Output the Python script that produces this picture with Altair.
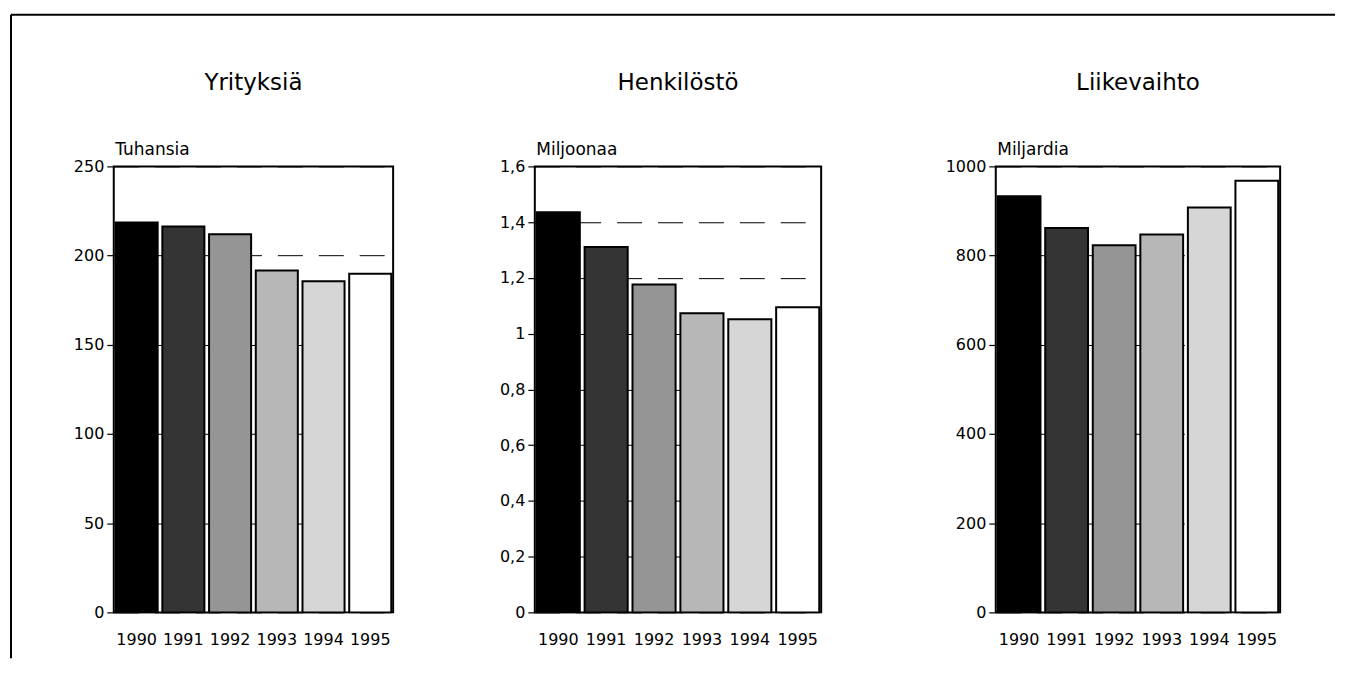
import altair as alt
import pandas as pd

# ---- data ----
years = ["1990", "1991", "1992", "1993", "1994", "1995"]
yritykset = [218.5, 216.3, 212.0, 191.7, 185.6, 189.8]      # Tuhansia
henkilosto = [1.435, 1.311, 1.176, 1.073, 1.052, 1.095]     # Miljoonaa
liikevaihto = [933, 862, 823, 847, 908, 968]                # Miljardia
bar_colors = ["#000000", "#343434", "#959595", "#b7b7b7", "#d6d6d6", "#ffffff"]

titles = ["Yrityksiä", "Henkilöstö", "Liikevaihto"]
units = ["Tuhansia", "Miljoonaa", "Miljardia"]
domains = [[0, 250], [0, 1.6], [0, 1000]]
tick_values = [
    [0, 50, 100, 150, 200, 250],
    [0, 0.2, 0.4, 0.6, 0.8, 1.0, 1.2, 1.4, 1.6],
    [0, 200, 400, 600, 800, 1000],
]
label_exprs = [
    "format(datum.value, 'd')",
    "replace(format(datum.value, '.1~f'), '.', ',')",
    "format(datum.value, 'd')",
]
widths = [280, 287, 285]
FONT = "DejaVu Sans"
H = 447


def panel(i, values):
    df = pd.DataFrame({"year": years, "value": values, "color": bar_colors})
    bars = alt.Chart(df).mark_bar(stroke="black", strokeWidth=2).encode(
        x=alt.X(
            "year:N",
            sort=years,
            scale=alt.Scale(paddingInner=0.1, paddingOuter=0.04),
            axis=alt.Axis(title=None, labelAngle=0, ticks=False, tickSize=0,
                          domain=False, labelPadding=19, grid=False),
        ),
        y=alt.Y(
            "value:Q",
            scale=alt.Scale(domain=domains[i], nice=False, zero=True),
            axis=alt.Axis(
                values=tick_values[i], labelExpr=label_exprs[i],
                title=units[i], titleAngle=0, titleAlign="left",
                titleBaseline="alphabetic", titleX=1, titleY=-12,
                grid=True, gridDash=[25, 16], gridColor="black", gridWidth=1,
                gridOpacity=1, domain=False, tickSize=7, tickColor="black",
                tickWidth=1.2, labelPadding=3,
            ),
        ),
        color=alt.Color("color:N", scale=None),
    )
    return bars.properties(
        width=widths[i],
        height=H,
        title=alt.TitleParams(titles[i], fontSize=23, font=FONT,
                              fontWeight="normal", color="black",
                              anchor="middle", offset=46),
    )


def spacer(w, frame=False):
    fdf = pd.DataFrame({"k": [0]})
    if frame:
        # outer page frame (top and left edges), relative to this spacer
        top = alt.Chart(fdf).mark_rule(color="black", strokeWidth=2).encode(
            x=alt.value(-383), x2=alt.value(944), y=alt.value(-152))
        left = alt.Chart(fdf).mark_rule(color="black", strokeWidth=2).encode(
            x=alt.value(-383), y=alt.value(-152), y2=alt.value(493))
        c = alt.layer(top, left)
    else:
        c = alt.Chart(fdf).mark_point(opacity=0).encode(
            x=alt.value(0), y=alt.value(0))
    return c.properties(width=w, height=H,
                        view=alt.ViewBackground(stroke="transparent"))


p1 = panel(0, yritykset)
p2 = panel(1, henkilosto)
p3 = panel(2, liikevaihto)

chart = (
    alt.hconcat(p1, spacer(142, frame=True), p2, spacer(174.5), p3,
                spacing=0, bounds="flush")
    .properties(padding={"left": 1, "top": 4, "right": 0, "bottom": 0},
                background="white")
    .configure_view(stroke="black", strokeWidth=2)
    .configure_axis(labelFont=FONT, labelFontSize=16, labelColor="black",
                    titleFont=FONT, titleFontSize=17, titleFontWeight="normal",
                    titleColor="black")
)

chart.save("out.html", embed_options={"renderer": "svg", "actions": False})
